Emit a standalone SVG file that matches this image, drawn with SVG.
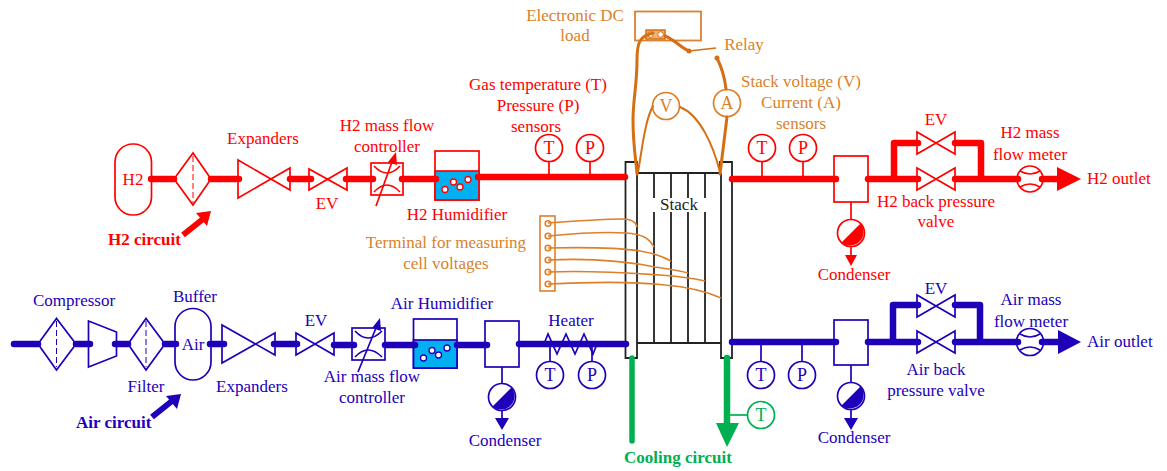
<svg xmlns="http://www.w3.org/2000/svg" width="1167" height="471" viewBox="0 0 1167 471">
<style>
text{font-family:"Liberation Serif","Times New Roman",serif;font-size:17px;text-anchor:middle}
.s{text-anchor:start}
.b{font-weight:bold}
.c{font-size:18px}
.red{fill:#ff0000}.blue{fill:#2200bb}.or{fill:#d9822b}.gr{fill:#00b050}.k{fill:#222}
.ln{fill:#fff;stroke-width:1.7}
.rl{stroke:#ff0000}.bl{stroke:#1f00b8}.gl{stroke:#00b050}.ol{stroke:#e07f2a}
.no{fill:none}
.pr{fill:none;stroke:#ff0000;stroke-width:6.5;stroke-linecap:round;stroke-linejoin:round}
.pb{fill:none;stroke:#1f00b8;stroke-width:6.5;stroke-linecap:round;stroke-linejoin:round}
.th{fill:none;stroke:#ff0000;stroke-width:1.7}
.tb{fill:none;stroke:#1f00b8;stroke-width:1.7}
.w{fill:none;stroke:#e07f2a;stroke-width:1.6}
.W{fill:none;stroke:#d56f14;stroke-width:3;stroke-linecap:round}
.st{fill:none;stroke:#222;stroke-width:1.8}
.dash{stroke-dasharray:6 3;stroke-width:1}
</style>
<g id="stack">
<path class="st" d="M637 173V358H625.500V162H637V173H720V162H732V358H721V173M637 343H721"/>
<path class="st" d="M654 173V198M671 173V198M688 173V198M705 173V198M654 212V343M671 212V343M688 212V343M705 212V343"/>
<text x="679" y="210" class="k">Stack</text>
</g>
<g id="terminal">
<rect class="no ol" x="540" y="216" width="15" height="75" stroke-width="1.6"/>
<g class="no ol" stroke-width="1.6">
<circle cx="548" cy="223.500" r="2.800"/><circle cx="548" cy="236" r="2.800"/><circle cx="548" cy="248" r="2.800"/><circle cx="548" cy="260" r="2.800"/><circle cx="548" cy="272" r="2.800"/><circle cx="548" cy="284" r="2.800"/>
</g>
<path class="w" d="M548 223C575 221 600 219 622 219C632 219 636 222 637 227"/>
<path class="w" d="M548 236C580 233 610 232 625 233C645 234 650 240 654 247"/>
<path class="w" d="M548 248C590 247 620 248 640 251C653 253 662 256 671 261"/>
<path class="w" d="M548 260C590 258 630 262 655 267C668 269 678 270 688 273"/>
<path class="w" d="M548 272C590 270 630 273 660 275C675 276 692 278 705 281"/>
<path class="w" d="M548 284C590 282 630 281 665 285C690 287 705 291 721 298"/>
<text x="446" y="248" class="or">Terminal for measuring</text>
<text x="446" y="269" class="or">cell voltages</text>
</g>
<g id="dc-load">
<rect class="no ol" x="635" y="11.500" width="66" height="29" stroke-width="1.800" style="stroke:#dd8033"/>
<rect x="646" y="30" width="19" height="9" fill="#f3b27a" stroke="#d56f14" stroke-width="1.500"/>
<circle cx="650.500" cy="34.500" r="2.800" fill="#fff" stroke="#d56f14"/>
<circle cx="660.500" cy="34.500" r="2.800" fill="#fff" stroke="#d56f14"/>
<text x="575" y="20.500" class="or">Electronic DC</text>
<text x="575" y="41" class="or">load</text>
<text x="744" y="50" class="or">Relay</text>
</g>
<g id="voltmeter"><circle class="ln ol" cx="666" cy="106" r="13.500"/><text x="666" y="112" class="or c">V</text></g>
<g id="ammeter"><circle class="ln ol" cx="727" cy="103" r="13.500"/><text x="727" y="109" class="or c">A</text></g>
<g id="stack-labels">
<text x="801" y="87" class="or">Stack voltage (V)</text>
<text x="801" y="108" class="or">Current (A)</text>
<text x="801" y="129" class="or">sensors</text>
</g>

<g id="h2-tank"><rect class="ln rl" x="115" y="144" width="36.500" height="71" rx="18" ry="18"/><text x="133" y="184.500" class="red">H2</text></g>
<g id="h2-filter"><path class="ln rl" d="M174 179L193 153L211 179L193 205Z"/><path class="th dash" d="M193 156V203"/></g>
<g id="h2-expander"><path class="ln rl" d="M238 160V198L290 168V190L238 160Z"/><text x="263" y="144" class="red">Expanders</text></g>
<g id="h2-ev"><path class="ln rl" d="M309 169V190L347 168V190L309 169Z"/><text x="327" y="209" class="red">EV</text></g>
<g id="h2-mfc"><rect class="ln rl" x="371" y="163" width="32" height="32"/><path class="th" d="M374 166Q387 180 400 166M374 192Q387 178 400 192"/><path class="th" d="M376 206L392 162"/><path d="M396 152L397 165L388 162Z" fill="#ff0000"/><text x="387" y="131" class="red">H2 mass flow</text><text x="387" y="152" class="red">controller</text></g>
<g id="h2-humidifier"><rect class="ln rl" x="435" y="151" width="44" height="49"/><rect x="435" y="171" width="44" height="29" fill="#00b0f0" stroke="#ff0000" stroke-width="1.700"/><g fill="#fff" stroke="#ff0000" stroke-width="1.300"><circle cx="445" cy="189.500" r="3"/><circle cx="453.500" cy="182" r="3"/><circle cx="460" cy="187" r="3"/><circle cx="468" cy="179.500" r="3"/></g><text x="457" y="220" class="red">H2 Humidifier</text></g>
<g id="h2-t-in"><circle class="ln rl" cx="549" cy="148" r="13.500"/><text x="549" y="154" class="red c">T</text></g>
<g id="h2-p-in"><circle class="ln rl" cx="590" cy="148" r="13.500"/><text x="590" y="154" class="red c">P</text></g>
<g id="h2-sensor-labels"><text x="538" y="90" class="red">Gas temperature (T)</text><text x="538" y="111" class="red">Pressure (P)</text><text x="536" y="132" class="red">sensors</text></g>
<g id="h2-t-out"><circle class="ln rl" cx="762" cy="148" r="13.500"/><text x="762" y="154" class="red c">T</text></g>
<g id="h2-p-out"><circle class="ln rl" cx="803" cy="148" r="13.500"/><text x="803" y="154" class="red c">P</text></g>
<g id="h2-separator"><rect class="ln rl" x="834" y="156" width="34" height="46"/></g>
<g id="h2-condenser"><circle class="ln rl" cx="851" cy="233" r="13.500"/><path d="M841.500 242.500A13.500 13.500 0 0 0 860.500 223.500Z" fill="#ff0000"/><text x="854" y="280" class="red">Condenser</text></g>
<g id="h2-ev2"><path class="ln rl" d="M917 132V154L955 132V154L917 132Z"/><text x="936" y="125" class="red">EV</text></g>
<g id="h2-bpv"><path class="ln rl" d="M917 168V190L955 168V190L917 168Z"/><text x="936" y="207" class="red">H2 back pressure</text><text x="936" y="227" class="red">valve</text></g>
<g id="h2-meter"><circle class="ln rl" cx="1030" cy="179" r="13"/><path class="th" d="M1020 171Q1030 177 1040 171M1020 187Q1030 181 1040 187"/><text x="1030" y="138" class="red">H2 mass</text><text x="1030" y="160" class="red">flow meter</text></g>
<g id="h2-outlet"><text x="1087" y="184" class="red s">H2 outlet</text></g>
<g id="h2-circuit"><text x="108" y="245" class="red b s">H2 circuit</text></g>

<g id="air-compressor-filter"><path class="ln bl" d="M38 344L56.500 318.500L76 344L56.500 370Z"/><path class="tb dash" d="M56.500 321V367"/><text x="74" y="306" class="blue">Compressor</text></g>
<g id="air-compressor"><path class="ln bl" d="M88.500 321L116.500 332V356L88.500 367Z"/></g>
<g id="air-filter"><path class="ln bl" d="M128 344L146 318.500L165 344L146 370Z"/><path class="tb dash" d="M146 321V367"/><text x="146" y="392" class="blue">Filter</text></g>
<g id="air-buffer"><rect class="ln bl" x="175" y="308.500" width="36" height="71.500" rx="18" ry="18"/><text x="193" y="350" class="blue">Air</text><text x="195" y="302" class="blue">Buffer</text></g>
<g id="air-expander"><path class="ln bl" d="M222 325V363L275 333V355L222 325Z"/><text x="252" y="392" class="blue">Expanders</text></g>
<g id="air-ev"><path class="ln bl" d="M296 333V355L334 333V355L296 333Z"/><text x="316" y="326" class="blue">EV</text></g>
<g id="air-mfc"><rect class="ln bl" x="352" y="328" width="33" height="32"/><path class="tb" d="M355 331Q368 345 382 331M355 357Q368 343 382 357"/><path class="tb" d="M358 372L376 328"/><path d="M380 318L381 331L372 328Z" fill="#1f00b8"/><text x="372" y="382" class="blue">Air mass flow</text><text x="372" y="403" class="blue">controller</text></g>
<g id="air-humidifier"><rect class="ln bl" x="413.500" y="319" width="43.500" height="49"/><rect x="413.500" y="340" width="43.500" height="28" fill="#00b0f0" stroke="#1f00b8" stroke-width="1.700"/><g fill="#fff" stroke="#1f00b8" stroke-width="1.300"><circle cx="423.500" cy="358" r="3"/><circle cx="432" cy="350.500" r="3"/><circle cx="438.500" cy="355" r="3"/><circle cx="447" cy="348" r="3"/></g><text x="442" y="309" class="blue">Air Humidifier</text></g>
<g id="air-separator"><rect class="ln bl" x="485" y="321" width="34" height="46"/></g>
<g id="air-condenser"><circle class="ln bl" cx="502" cy="397" r="13.500"/><path d="M492.500 406.500A13.500 13.500 0 0 0 511.500 387.500Z" fill="#1f00b8"/><text x="505" y="446" class="blue">Condenser</text></g>
<g id="air-heater"><path class="tb" d="M544 344L548 334L557 354L566 334L575 354L584 334L593 354L597 344"/><text x="571" y="326" class="blue">Heater</text></g>
<g id="air-t-in"><circle class="ln bl" cx="550" cy="375" r="13.500"/><text x="550" y="381" class="blue c">T</text></g>
<g id="air-p-in"><circle class="ln bl" cx="592" cy="375" r="13.500"/><text x="592" y="381" class="blue c">P</text></g>
<g id="air-t-out"><circle class="ln bl" cx="761" cy="375" r="13.500"/><text x="761" y="381" class="blue c">T</text></g>
<g id="air-p-out"><circle class="ln bl" cx="802" cy="375" r="13.500"/><text x="802" y="381" class="blue c">P</text></g>
<g id="air-separator2"><rect class="ln bl" x="834" y="320" width="34" height="45"/></g>
<g id="air-condenser2"><circle class="ln bl" cx="851" cy="396" r="13.500"/><path d="M841.500 405.500A13.500 13.500 0 0 0 860.500 386.500Z" fill="#1f00b8"/><text x="854" y="443" class="blue">Condenser</text></g>
<g id="air-ev2"><path class="ln bl" d="M917 295V317L955 295V317L917 295Z"/><text x="936" y="294" class="blue">EV</text></g>
<g id="air-bpv"><path class="ln bl" d="M917 331V353L955 331V353L917 331Z"/><text x="936" y="375" class="blue">Air back</text><text x="936" y="396" class="blue">pressure valve</text></g>
<g id="air-meter"><circle class="ln bl" cx="1030" cy="342" r="13.500"/><path class="tb" d="M1020 334Q1030 340 1040 334M1020 350Q1030 344 1040 350"/><text x="1031" y="305" class="blue">Air mass</text><text x="1031" y="327" class="blue">flow meter</text></g>
<g id="air-outlet"><text x="1087" y="347" class="blue s">Air outlet</text></g>
<g id="air-circuit"><text x="76" y="428" class="blue b s">Air circuit</text></g>

<g id="cooling-t"><circle class="ln gl" cx="761" cy="415" r="13.500"/><text x="761" y="421" class="gr c">T</text></g>
<g id="cooling-circuit"><text x="678" y="463" class="gr b">Cooling circuit</text></g>

<g id="connectors">
<path class="pr" d="M151 179H174M211 179H239M290 179H311M346 179H373M402 179H436M478 177H625M732 179H836M868 179H918M955 179H1018M894 179V143H918M955 143H981V179M1042 179H1060"/>
<path class="pb" d="M14 344H38M76 344H90M115 344H128M165 344H176M210 344H224M274 344H297M334 345H354M385 345H415M457 345H487M519 344H626M732 342H836M868 342H918M955 342H1018M893 342V305H918M955 305H980V342M1042 342H1060"/>
<path d="M1057 167L1081 179L1057 191Z" fill="#ff0000"/>
<path d="M1058 330L1081 342L1058 354Z" fill="#1f00b8"/>
<path d="M632 358V441" fill="none" stroke="#00b050" stroke-width="5.500" stroke-linecap="round"/>
<path d="M727 358V426" fill="none" stroke="#00b050" stroke-width="6.500" stroke-linecap="round"/>
<path d="M716 423L739 423L727 447Z" fill="#00b050"/>
<path class="th" d="M549 162V176M590 162V176M762 162V178M803 162V178M851 202V219M851 247V256"/>
<path d="M845 255H857L851 266Z" fill="#ff0000"/>
<path class="tb" d="M550 345V362M592 345V362M761 342V362M802 342V362M502 367V384M502 410V419M851 365V382M851 410V419"/>
<path d="M495 418H509L502 430Z" fill="#1f00b8"/>
<path d="M844 418H858L851 430Z" fill="#1f00b8"/>
<path d="M728 415H748" fill="none" stroke="#00b050" stroke-width="1.700"/>
<path class="W" d="M653 33C640 36 637 42 637 60C637 85 633 100 633 120C633 145 636 160 637 174"/>
<path class="W" d="M665 36C675 40 680 47 689 51"/>
<path class="W" d="M717 58C722 68 725 80 726 89M727 117L720 174"/>
<path class="W" style="stroke-width:2" d="M653 106C645 120 642 150 638 172M680 107C700 115 713 145 720 172"/>
<path d="M689 51L716 48" fill="none" stroke="#d56f14" stroke-width="1.700"/>
<circle cx="689" cy="51" r="2.500" fill="#d56f14"/>
<circle cx="717" cy="58" r="2.500" fill="#d56f14"/>
<path d="M183 235L203 219" fill="none" stroke="#ff0000" stroke-width="6"/>
<path d="M211 211L207 226L196 213Z" fill="#ff0000"/>
<path d="M152 417L172 401" fill="none" stroke="#1f00b8" stroke-width="6"/>
<path d="M181 394L177 409L166 396Z" fill="#1f00b8"/>
</g>
</svg>
